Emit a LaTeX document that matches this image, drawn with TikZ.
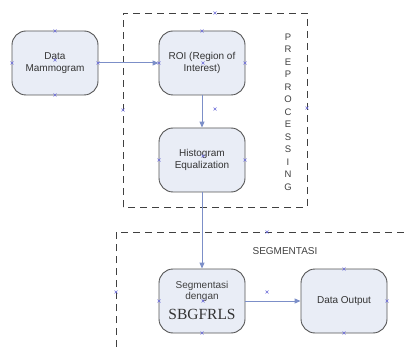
\documentclass[tikz,border=0pt]{standalone}
\usepackage{fontspec}
\setmainfont{Liberation Sans}
\newfontfamily\tnr{Liberation Serif}
\usetikzlibrary{arrows.meta}
\definecolor{boxfill}{HTML}{E9EDF6}
\definecolor{boxline}{HTML}{555555}
\definecolor{conn}{HTML}{7C8FC8}
\definecolor{cptcol}{HTML}{6C6CD8}
\tikzset{
  proc/.style={draw=boxline, line width=0.9pt, fill=boxfill, rounded corners=14pt,
    minimum width=86pt, minimum height=64pt, inner sep=0pt, align=center,
    font=\fontsize{10}{12}\selectfont, text=black!80},
  flow/.style={draw=conn, line width=1pt, -{Triangle[length=6pt,width=5pt]}},
  group/.style={draw=black!75, line width=0.9pt, dash pattern=on 7pt off 5pt},
  lbl/.style={font=\fontsize{10}{12}\selectfont, text=black!75, inner sep=0pt},
  cpt/.style={draw=cptcol, line width=0.5pt}
}
\newcommand{\cmark}[2]{\draw[cpt] (#1-1.5,#2-1.5) -- (#1+1.5,#2+1.5) (#1-1.5,#2+1.5) -- (#1+1.5,#2-1.5);}
\begin{document}
\begin{tikzpicture}[x=1pt,y=-1pt]
\useasboundingbox (0,0) rectangle (409,347);
% group boxes
\draw[group] (123,207) -- (123,13) -- (307,13) -- (307,207) -- cycle;
\draw[group] (116,347) -- (116,232) -- (409,232);
% nodes
\node[proc] (dm) at (55,63) {Data\\Mammogram};
\node[proc] (roi) at (202,63) {ROI (Region of\\Interest)};
\node[proc] (he) at (202,160) {Histogram\\Equalization};
\node[proc] (seg) at (202,301) {};
\node[lbl, align=center, font=\fontsize{10}{11.5}\selectfont] (segt) at (202,291.5) {Segmentasi\\dengan};
\node[inner sep=0pt, font=\tnr\fontsize{15.5}{16}\selectfont, text=black!80] (sbg) at (202,314) {SBGFRLS};
\node[proc] (out) at (344,301) {Data Output};
% labels
\node[lbl] (segl) at (285,251) {SEGMENTASI};
\node[lbl, align=center, font=\fontsize{9.5}{12.5}\selectfont] (pre) at (288,112)
  {P\\R\\E\\P\\R\\O\\C\\E\\S\\S\\I\\N\\G};
% connectors
\draw[flow] (dm.east) -- (roi.west);
\draw[flow] (roi.south) -- (he.north);
\draw[flow] (he.south) -- (seg.north);
\draw[flow] (seg.east) -- (out.west);
% connection marks
\cmark{55}{31}\cmark{55}{95}\cmark{12}{63}\cmark{98}{63}\cmark{55}{60}
\cmark{202}{31}\cmark{245}{63}\cmark{159}{63}\cmark{203}{63}
\cmark{245}{160}\cmark{159}{160}\cmark{203}{156}\cmark{215}{109}
\cmark{202}{333}\cmark{159}{301}\cmark{203}{301}\cmark{267}{292}
\cmark{344}{269}\cmark{344}{333}\cmark{387}{301}
\cmark{215}{13}\cmark{123}{110}\cmark{307}{108}\cmark{267}{232}\cmark{116}{292}
\end{tikzpicture}
\end{document}
